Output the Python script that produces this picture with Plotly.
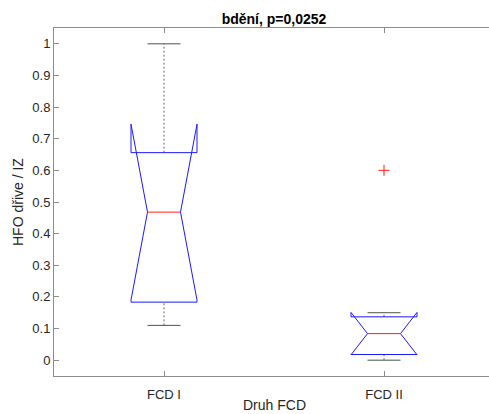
import plotly.graph_objects as go

# Notched box plot statistics per group
groups = ["FCD I", "FCD II"]
positions = [1, 2]
whisker_low = [0.11, 0.0]
quartile_1 = [0.1835, 0.018]
medians = [0.468, 0.084]
quartile_3 = [0.656, 0.137]
whisker_high = [1.0, 0.15]
notch_low = [0.19, 0.017]
notch_high = [0.746, 0.151]
outlier_pos = [2]
outlier_val = [0.6]

title_text = "bdění, p=0,0252"
y_title = "HFO dřive / IZ"
x_title = "Druh FCD"
y_ticks = [0, 0.1, 0.2, 0.3, 0.4, 0.5, 0.6, 0.7, 0.8, 0.9, 1]

half_w = 0.15      # box half width
cap_w = half_w / 2  # whisker cap / notch waist half width

BLUE = "#1a1aff"
RED = "#ff2020"
WHISK = "#6a6a6a"
CAP = "#505050"
AXIS = "#8c8c8c"
TEXT = "#262626"
FONT = "Liberation Sans, Arial, sans-serif"

# plot area: 54 px from the left edge, 435 px wide
PLOT_LEFT = 54
PLOT_W = 435

fig = go.Figure()

for x, wl, q1, md, q3, wh, nl, nh in zip(positions, whisker_low, quartile_1, medians,
                                         quartile_3, whisker_high, notch_low, notch_high):
    # dashed whiskers
    for a, b in ((q3, wh), (wl, q1)):
        fig.add_trace(go.Scatter(x=[x, x], y=[a, b], mode="lines",
                                 line=dict(color=WHISK, width=1, dash="2px,2px"),
                                 hoverinfo="skip", showlegend=False))
    # whisker caps
    for v in (wl, wh):
        fig.add_trace(go.Scatter(x=[x - cap_w, x + cap_w], y=[v, v], mode="lines",
                                 line=dict(color=CAP, width=1),
                                 hoverinfo="skip", showlegend=False))
    # notched box outline
    bx = [x - half_w, x - half_w, x - cap_w, x - half_w, x - half_w,
          x + half_w, x + half_w, x + cap_w, x + half_w, x + half_w, x - half_w]
    by = [q1, nl, md, nh, q3, q3, nh, md, nl, q1, q1]
    fig.add_trace(go.Scatter(x=bx, y=by, mode="lines",
                             line=dict(color=BLUE, width=1),
                             hoverinfo="skip", showlegend=False))
    # median
    fig.add_trace(go.Scatter(x=[x - cap_w, x + cap_w], y=[md, md], mode="lines",
                             line=dict(color=RED, width=1),
                             hoverinfo="skip", showlegend=False))

# outliers
fig.add_trace(go.Scatter(x=outlier_pos, y=outlier_val, mode="markers",
                         marker=dict(symbol="cross-thin", size=8,
                                     line=dict(color=RED, width=1)),
                         hoverinfo="skip", showlegend=False))

center_x = (274 - PLOT_LEFT) / PLOT_W

fig.update_layout(
    width=489, height=414,
    margin=dict(l=PLOT_LEFT, r=0, t=28, b=38),
    plot_bgcolor="white", paper_bgcolor="white",
    font=dict(family=FONT, size=13, color=TEXT),
    showlegend=False,
    title=dict(text="<b>" + title_text + "</b>", x=274 / 489, xanchor="center",
               y=1 - 19 / 414, yanchor="middle",
               font=dict(family=FONT, size=14, color="black")),
    xaxis=dict(range=[0.5, 2.5 - 5 / 220], tickvals=positions, ticktext=groups,
               ticks="inside", ticklen=5, tickcolor=AXIS, showline=True,
               linecolor=AXIS, linewidth=1, mirror="ticks", showgrid=False,
               zeroline=False, ticklabelstandoff=6,
               tickfont=dict(size=13, color=TEXT)),
    yaxis=dict(range=[-0.05, 1.05], tickvals=y_ticks, ticks="inside", ticklen=5,
               tickcolor=AXIS, showline=True, linecolor=AXIS, linewidth=1,
               showgrid=False, zeroline=False,
               tickfont=dict(size=13, color=TEXT)),
    annotations=[
        dict(text=y_title, xref="paper", yref="paper", x=0, y=0.5,
             xshift=-36, xanchor="center", yanchor="middle", textangle=-90,
             showarrow=False, font=dict(size=14, color=TEXT)),
        dict(text=x_title, xref="paper", yref="paper", x=center_x, y=0,
             xanchor="center", yanchor="top", yshift=-20, borderpad=0,
             showarrow=False, font=dict(size=14, color=TEXT)),
    ],
)

fig.write_html("out.html")
